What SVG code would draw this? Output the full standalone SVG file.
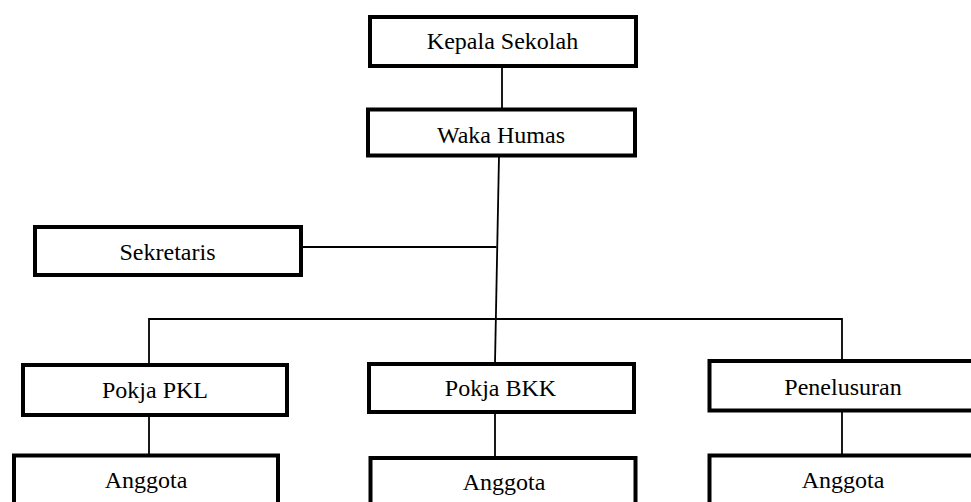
<svg xmlns="http://www.w3.org/2000/svg" width="971" height="502" viewBox="0 0 971 502">
<style>
.box{fill:#fff;stroke:#000;stroke-width:4}
.lbl{font-family:"Liberation Serif","Times New Roman",serif;font-size:24px;fill:#000;text-anchor:middle}
.con{stroke:#000;stroke-width:1.8;fill:none}
</style>
<rect width="971" height="502" fill="#fff"/>
<g id="connectors">
<line class="con" x1="502" y1="67" x2="502" y2="108"/>
<line class="con" x1="499" y1="156" x2="495" y2="363"/>
<line class="con" x1="302" y1="247" x2="496.5" y2="247"/>
<line class="con" x1="149" y1="319" x2="842" y2="319"/>
<line class="con" x1="149" y1="318.1" x2="149" y2="364"/>
<line class="con" x1="842" y1="318.1" x2="842" y2="360"/>
<line class="con" x1="149" y1="415" x2="149" y2="455"/>
<line class="con" x1="495" y1="413" x2="495" y2="458"/>
<line class="con" x1="842" y1="411" x2="842" y2="455"/>
</g>
<g id="kepala-sekolah">
<rect class="box" x="370" y="17" width="266" height="49"/>
<text class="lbl" x="502.5" y="49">Kepala Sekolah</text>
</g>
<g id="waka-humas">
<rect class="box" x="368" y="109.5" width="267" height="46"/>
<text class="lbl" x="501" y="142.5">Waka Humas</text>
</g>
<g id="sekretaris">
<rect class="box" x="35" y="227" width="266" height="48"/>
<text class="lbl" x="167.5" y="260">Sekretaris</text>
</g>
<g id="pokja-pkl">
<rect class="box" x="23" y="365" width="264" height="50"/>
<text class="lbl" x="155" y="398">Pokja PKL</text>
</g>
<g id="pokja-bkk">
<rect class="box" x="369" y="364" width="265" height="48"/>
<text class="lbl" x="500.5" y="396">Pokja BKK</text>
</g>
<g id="penelusuran">
<rect class="box" x="709.5" y="361" width="300" height="49.5"/>
<text class="lbl" x="843" y="395">Penelusuran</text>
</g>
<g id="anggota-pkl">
<rect class="box" x="14" y="455.5" width="264" height="70"/>
<text class="lbl" x="146" y="488">Anggota</text>
</g>
<g id="anggota-bkk">
<rect class="box" x="370.5" y="458" width="265" height="70"/>
<text class="lbl" x="504" y="490">Anggota</text>
</g>
<g id="anggota-penelusuran">
<rect class="box" x="709.5" y="455.5" width="300" height="70"/>
<text class="lbl" x="843" y="488">Anggota</text>
</g>
</svg>
